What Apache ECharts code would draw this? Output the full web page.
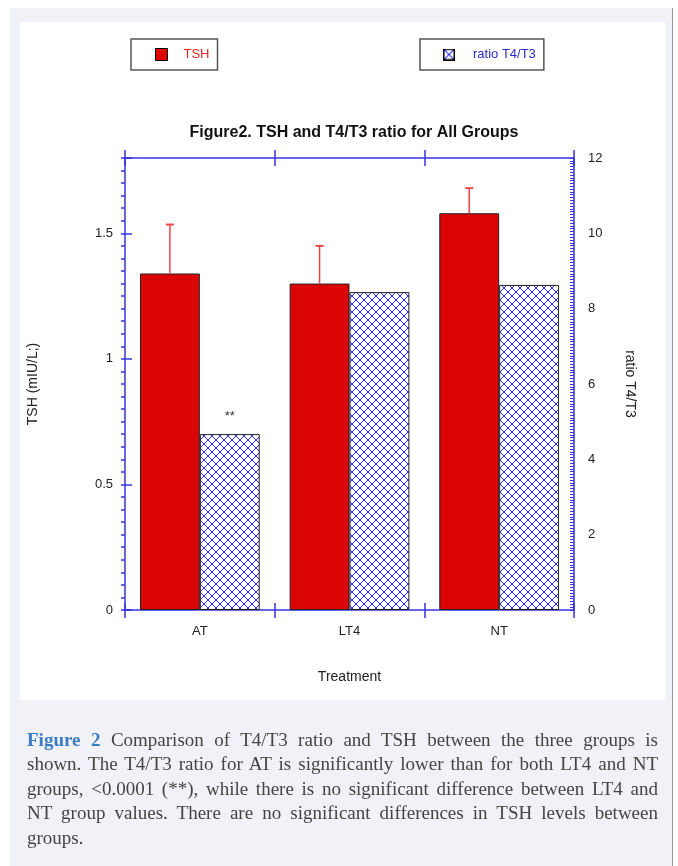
<!DOCTYPE html>
<html>
<head>
<meta charset="utf-8">
<script src="https://cdn.jsdelivr.net/npm/echarts@6/dist/echarts.min.js"></script>
<style>
  html, body { margin: 0; padding: 0; background: #ffffff; width: 678px; height: 866px; overflow: hidden; }
  #panel { position: absolute; left: 10px; top: 8px; width: 662px; height: 858px; background: #f1f2f7; border-right: 1px solid #9a9aa4; }
  #inner { position: absolute; left: 20px; top: 22px; width: 645px; height: 678px; background: #ffffff; }
  #chart { position: absolute; left: 0; top: 0; width: 678px; height: 866px; }
  #caption { position: absolute; left: 27px; top: 728px; width: 631px; font-family: "Liberation Serif", "DejaVu Serif", serif; font-size: 19px; color: #444444; line-height: 24.4px; }
  #caption div { text-align: justify; text-align-last: justify; }
  #caption div.last { text-align-last: left; }
  #caption b { color: #3a7cc4; font-weight: bold; }
</style>
</head>
<body>
<div id="panel"></div>
<div id="inner"></div>
<div id="chart"></div>
<div id="caption">
  <div><b>Figure 2</b> Comparison of T4/T3 ratio and TSH between the three groups is</div>
  <div>shown. The T4/T3 ratio for AT is significantly lower than for both LT4 and NT</div>
  <div>groups, &lt;0.0001 (**), while there is no significant difference between LT4 and</div>
  <div>NT group values. There are no significant differences in TSH levels between</div>
  <div class="last">groups.</div>
</div>
<script>
// ---- data ----
const categories = ['AT', 'LT4', 'NT'];
const tshMean = [1.34, 1.30, 1.58];
const tshErr = [0.195, 0.15, 0.10];
const ratioMean = [4.67, 8.44, 8.63];
const leftTicks = [0, 0.5, 1, 1.5];
const rightTicks = [0, 2, 4, 6, 8, 10, 12];
const significance = ['**', '', ''];

// ---- styles ----
const AXIS = '#3434e0';
const RED = '#dc0505';
const BLUE = '#2b2bff';
const FONT = '"Liberation Sans", Arial, sans-serif';

// crosshatch pattern (crisp 1px diagonals)
const P = 8;
const tile = document.createElement('canvas');
tile.width = P; tile.height = P;
(function () {
  const c = tile.getContext('2d');
  c.fillStyle = '#ffffff'; c.fillRect(0, 0, P, P);
  c.fillStyle = BLUE;
  for (let i = 0; i < P; i++) {
    c.fillRect(i, i, 1, 1);
    c.fillRect(i, P - 1 - i, 1, 1);
  }
})();

// legend icon for ratio: square with X
const icon = document.createElement('canvas');
icon.width = 24; icon.height = 24;
(function () {
  const c = icon.getContext('2d');
  c.fillStyle = '#fff'; c.fillRect(0, 0, 24, 24);
  c.strokeStyle = BLUE; c.lineWidth = 2;
  c.beginPath(); c.moveTo(3, 3); c.lineTo(21, 21); c.moveTo(21, 3); c.lineTo(3, 21); c.stroke();
  c.strokeStyle = '#000'; c.lineWidth = 3;
  c.strokeRect(1.5, 1.5, 21, 21);
})();

const chart = echarts.init(document.getElementById('chart'), null, { renderer: 'canvas' });

const errData = categories.map((c, i) => [i, tshMean[i], tshMean[i] + tshErr[i]]);

const option = {
  backgroundColor: 'transparent',
  animation: false,
  textStyle: { fontFamily: FONT },
  title: {
    text: 'Figure2. TSH and T4/T3 ratio for All Groups',
    left: 349, top: 120, textAlign: 'center',
    textStyle: { fontFamily: FONT, fontSize: 16, fontWeight: 'bold', color: '#111' }
  },
  legend: [
    {
      data: [{ name: 'TSH', icon: 'rect', itemStyle: { color: RED, borderColor: '#000', borderWidth: 1 } }],
      left: 131, top: 39, orient: 'horizontal', selectedMode: false,
      itemWidth: 12, itemHeight: 12,
      padding: [9, 8, 9, 24],
      borderColor: '#555', borderWidth: 1.5, backgroundColor: '#fff',
      formatter: '{t|{name}}',
      textStyle: { color: '#e02525', fontFamily: FONT, fontSize: 13, rich: { t: { padding: [0, 0, 0, 11], color: '#e02525', fontSize: 13, fontFamily: FONT } } }
    },
    {
      data: [{ name: 'ratio T4/T3', icon: 'image://' + icon.toDataURL() }],
      left: 420, top: 39, orient: 'horizontal', selectedMode: false,
      itemWidth: 12, itemHeight: 12,
      padding: [9, 8, 9, 23],
      borderColor: '#555', borderWidth: 1.5, backgroundColor: '#fff',
      formatter: '{t|{name}}',
      textStyle: { color: '#2a2ad2', fontFamily: FONT, fontSize: 13, rich: { t: { padding: [0, 0, 0, 13], color: '#2a2ad2', fontSize: 13, fontFamily: FONT } } }
    }
  ],
  grid: { left: 125, top: 158, width: 449, height: 452, containLabel: false },
  xAxis: [
    {
      type: 'category', data: categories, position: 'bottom',
      axisLine: { onZero: false, lineStyle: { color: AXIS, width: 1.5 } },
      axisTick: { show: true, inside: false, length: 8, lineStyle: { color: AXIS, width: 1.5 } },
      axisLabel: { margin: 15, fontSize: 13, color: '#222', fontFamily: FONT },
      name: 'Treatment', nameLocation: 'middle', nameGap: 60,
      nameTextStyle: { fontSize: 14, color: '#222', fontFamily: FONT }
    },
    {
      type: 'category', data: categories, position: 'bottom',
      axisLine: { show: false, onZero: false },
      axisTick: { show: true, inside: true, length: 7, lineStyle: { color: AXIS, width: 1.5 } },
      axisLabel: { show: false }
    },
    {
      type: 'category', data: categories, position: 'top',
      axisLine: { show: true, onZero: false, lineStyle: { color: AXIS, width: 1.5 } },
      axisTick: { show: true, inside: false, length: 8, lineStyle: { color: AXIS, width: 1.5 } },
      axisLabel: { show: false }
    },
    {
      type: 'category', data: categories, position: 'top',
      axisLine: { show: false, onZero: false },
      axisTick: { show: true, inside: true, length: 8, lineStyle: { color: AXIS, width: 1.5 } },
      axisLabel: { show: false }
    }
  ],
  yAxis: [
    {
      type: 'value', position: 'left', min: 0, max: 1.8, interval: 0.5,
      axisLine: { show: true, onZero: false, lineStyle: { color: AXIS, width: 1.5 } },
      axisTick: { show: true, inside: true, length: 7, lineStyle: { color: AXIS, width: 1.5 } },
      axisLabel: {
        margin: 12, fontSize: 13, color: '#222', fontFamily: FONT,
        formatter: v => (leftTicks.indexOf(Math.round(v * 100) / 100) >= 0 ? String(Math.round(v * 100) / 100) : '')
      },
      splitLine: { show: false },
      name: 'TSH (mIU/L;)', nameLocation: 'middle', nameGap: 85, nameRotate: 90,
      nameTextStyle: { fontSize: 14, color: '#222', fontFamily: FONT }
    },
    {
      type: 'value', position: 'left', min: 0, max: 1.8, interval: 0.05,
      axisLine: { show: false, onZero: false },
      axisTick: { show: true, inside: false, length: 4, lineStyle: { color: AXIS, width: 1.5 } },
      axisLabel: { show: false },
      splitLine: { show: false }
    },
    {
      type: 'value', position: 'right', min: 0, max: 12, interval: 2,
      axisLine: { show: true, onZero: false, lineStyle: { color: AXIS, width: 1.5 } },
      axisTick: { show: false },
      axisLabel: {
        margin: 14, fontSize: 13, color: '#222', fontFamily: FONT,
        formatter: v => (rightTicks.indexOf(v) >= 0 ? String(v) : '')
      },
      splitLine: { show: false },
      name: 'ratio T4/T3', nameLocation: 'middle', nameGap: 49, nameRotate: -90,
      nameTextStyle: { fontSize: 14, color: '#222', fontFamily: FONT }
    },
    {
      type: 'value', position: 'right', min: 0, max: 12, interval: 0.075,
      axisLine: { show: false, onZero: false },
      axisTick: { show: true, inside: true, length: 4, lineStyle: { color: AXIS, width: 1 } },
      axisLabel: { show: false },
      splitLine: { show: false }
    }
  ],
  series: [
    {
      name: 'TSH', type: 'bar', xAxisIndex: 0, yAxisIndex: 0,
      data: tshMean,
      barGap: '0%', barCategoryGap: '20%',
      itemStyle: { color: RED, borderColor: '#222', borderWidth: 1 }
    },
    {
      name: 'ratio T4/T3', type: 'bar', xAxisIndex: 0, yAxisIndex: 2,
      data: ratioMean.map((v, i) => ({
        value: v,
        label: significance[i] ? { show: true, formatter: significance[i], position: 'top', distance: 11, color: '#333', fontSize: 13, fontFamily: FONT } : { show: false }
      })),
      barGap: '0%', barCategoryGap: '20%',
      itemStyle: { color: { image: tile, repeat: 'repeat' }, borderColor: '#222', borderWidth: 1 }
    },
    {
      name: 'TSH error', type: 'custom', xAxisIndex: 0, yAxisIndex: 0,
      data: errData,
      encode: { x: 0, y: [1, 2] },
      z: 5,
      renderItem: function (params, api) {
        const idx = api.value(0);
        const base = api.coord([idx, api.value(1)]);
        const top = api.coord([idx, api.value(2)]);
        const band = api.size([1, 0])[0];
        const cx = base[0] - band * 0.2;
        return {
          type: 'group',
          children: [
            { type: 'line', shape: { x1: cx, y1: base[1], x2: cx, y2: top[1] }, style: { stroke: '#e8464a', lineWidth: 1.5 } },
            { type: 'line', shape: { x1: cx - 4, y1: top[1], x2: cx + 4, y2: top[1] }, style: { stroke: '#e8464a', lineWidth: 2 } }
          ]
        };
      }
    }
  ]
};
chart.setOption(option);
</script>
</body>
</html>
